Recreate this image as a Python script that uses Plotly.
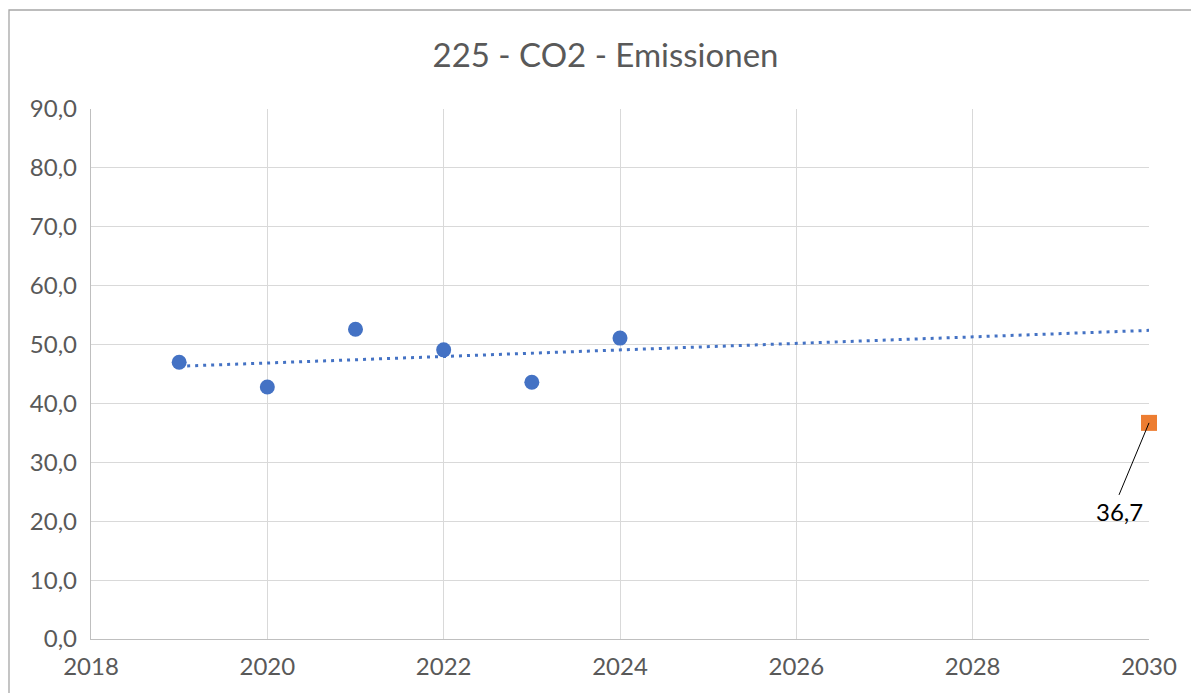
import numpy as np
import plotly.graph_objects as go

years = [2019, 2020, 2021, 2022, 2023, 2024]
emissions = [47.0, 42.8, 52.6, 49.1, 43.6, 51.1]
target_year = [2030]
target_value = [36.7]
x_ticks = [2018, 2020, 2022, 2024, 2026, 2028, 2030]
y_ticks = [0, 10, 20, 30, 40, 50, 60, 70, 80, 90]

FONT = "Lato, Open Sans, sans-serif"

# linear trendline (as Excel computes it)
slope, intercept = np.polyfit(years, emissions, 1)
trend_x = [years[0], target_year[0]]
trend_y = [slope * x + intercept for x in trend_x]

fig = go.Figure()
fig.add_trace(go.Scatter(x=trend_x, y=trend_y, mode="lines",
                         line=dict(color="#4472C4", width=3, dash="3px,5px"),
                         showlegend=False, hoverinfo="skip"))
fig.add_trace(go.Scatter(x=years, y=emissions, mode="markers",
                         marker=dict(color="#4472C4", size=15),
                         showlegend=False))
fig.add_trace(go.Scatter(x=target_year, y=target_value, mode="markers",
                         marker=dict(color="#ED7D31", size=16, symbol="square"),
                         showlegend=False, cliponaxis=False))

fig.add_annotation(x=target_year[0], y=target_value[0],
                   text=f"{target_value[0]:.1f}".replace(".", ","),
                   showarrow=True, arrowhead=0, arrowwidth=1, arrowcolor="#000000",
                   ax=-30, ay=72, xanchor="center", yanchor="top",
                   font=dict(family=FONT, size=24, color="#000000"))

# page has an 8px body margin; margins compensate so the plot area sits at
# x 91..1149, y 109..639 in the window
fig.update_layout(
    width=1199, height=693,
    margin=dict(l=83, r=58, t=101, b=62),
    paper_bgcolor="white", plot_bgcolor="white",
    separators=",.",
    title=dict(text="225 - CO2 - Emissionen", x=597.5 / 1199, xanchor="center",
               y=1 - 47 / 693, yanchor="middle", xref="container",
               font=dict(family=FONT, size=33, color="#595959")),
    font=dict(family=FONT, color="#595959", size=24),
    xaxis=dict(range=[2018, 2030], tickvals=x_ticks, showgrid=True,
               gridcolor="#D9D9D9", gridwidth=1.3, zeroline=False,
               showline=True, linecolor="#BFBFBF", linewidth=1.3,
               ticks="", ticklabelstandoff=6,
               tickfont=dict(family=FONT, size=24, color="#595959")),
    yaxis=dict(range=[0, 90], tickvals=y_ticks, tickformat=".1f", showgrid=True,
               gridcolor="#D9D9D9", gridwidth=1.3, zeroline=False,
               showline=True, linecolor="#BFBFBF", linewidth=1.3,
               ticks="", ticklabelstandoff=8,
               tickfont=dict(family=FONT, size=24, color="#595959")),
    shapes=[dict(type="rect", xref="paper", yref="paper",
                 x0=-82 / 1058, x1=1 + 80 / 1058, y0=-90 / 530, y1=1 + 99 / 530,
                 line=dict(color="#A6A6A6", width=1.3), fillcolor="rgba(0,0,0,0)",
                 layer="below")],
)

fig.write_html("out.html")
